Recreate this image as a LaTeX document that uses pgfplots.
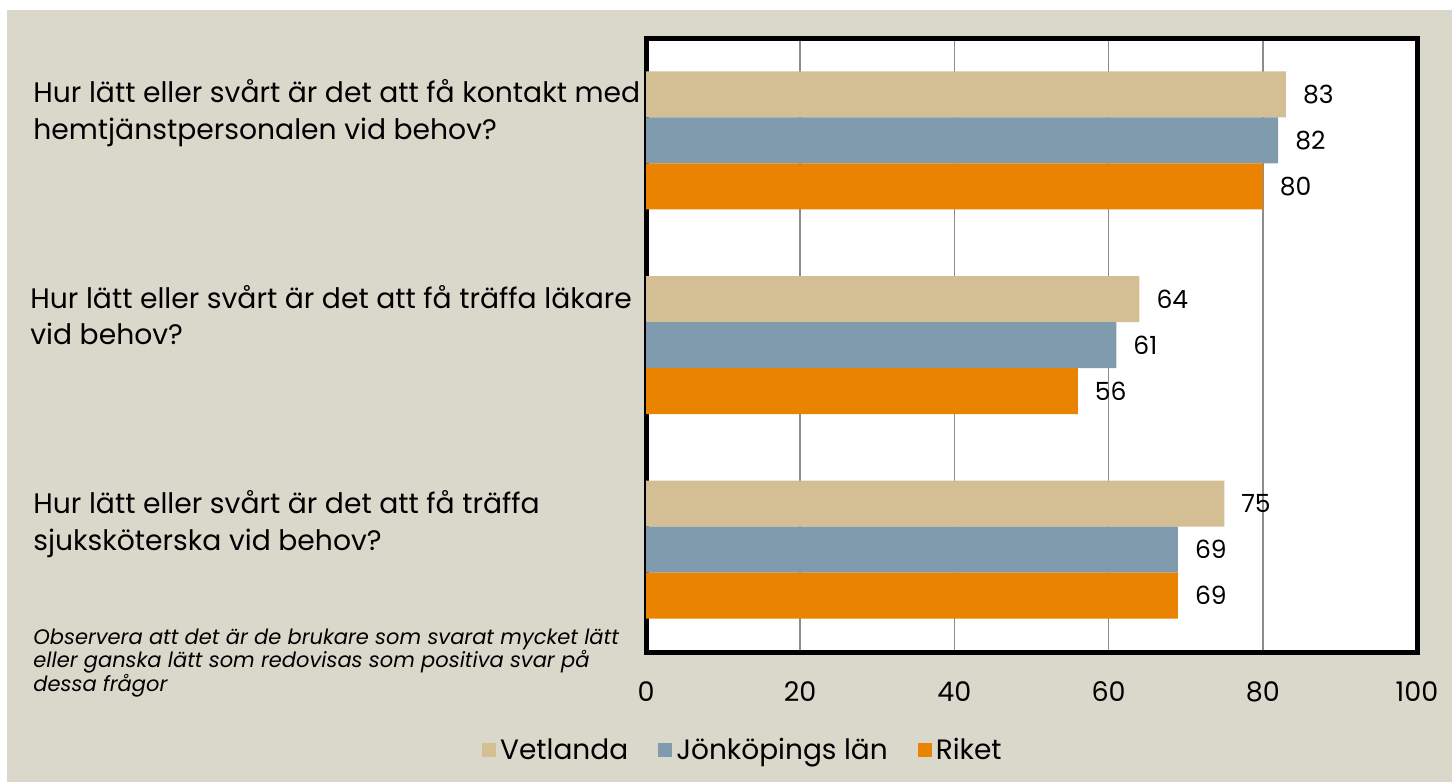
\documentclass[border=0pt]{standalone}
\usepackage{fontspec}
\setmainfont{Poppins}
\usepackage{pgfplots}
\pgfplotsset{compat=1.18}
\definecolor{bg}{HTML}{DAD8CB}
\definecolor{tan}{HTML}{D4BF95}
\definecolor{steel}{HTML}{7F9BAD}
\definecolor{orng}{HTML}{EA8400}
\begin{document}
\begin{tikzpicture}[x=1pt,y=1pt]
\useasboundingbox (0,0) rectangle (726,391);
\fill[white] (0,0) rectangle (726,391);
\fill[bg] (3.5,0) rectangle (726,386);
\begin{axis}[
  at={(323pt,65pt)}, anchor=south west,
  scale only axis, width=385.5pt, height=307pt,
  xmin=0, xmax=100, ymin=-0.5, ymax=2.5,
  y dir=reverse,
  xbar, bar width=23pt,
  ytick=\empty,
  xtick={0,20,40,60,80,100},
  xmajorgrids,
  grid style={draw=gray!90, line width=0.75pt},
  axis line style={line width=2.5pt},
  major tick style={draw=none},
  axis background/.style={fill=white},
  /pgf/number format/assume math mode=true,
  xticklabel style={font=\fontsize{13.5}{13.5}\selectfont, anchor=center, yshift=-20pt},
  nodes near coords,
  nodes near coords style={anchor=west, xshift=5pt, font=\fontsize{12.5}{12.5}\selectfont, text=black},
  legend columns=3,
  legend style={at={(0.127,-0.16)}, anchor=center, draw=none, fill=none,
    font=\fontsize{14}{14}\selectfont, /tikz/every even column/.append style={column sep=13pt}},
  legend image code/.code={\fill[#1] (0pt,-3.5pt) rectangle (7pt,3.5pt);},
]
\addplot[fill=tan, draw=none, bar shift=23pt] coordinates {(83,0) (64,1) (75,2)};
\addplot[fill=steel, draw=none, bar shift=0pt] coordinates {(82,0) (61,1) (69,2)};
\addplot[fill=orng, draw=none, bar shift=-23pt] coordinates {(80,0) (56,1) (69,2)};
\legend{Vetlanda, Jönköpings län, Riket}
\end{axis}
\begin{scope}[every node/.style={anchor=base west, inner sep=0pt, font=\fontsize{14.1}{14.1}\selectfont}]
\node at (16.5,339.5) {Hur lätt eller svårt är det att få kontakt med};
\node at (16.5,321) {hemtjänstpersonalen vid behov?};
\node at (15,236.5) {Hur lätt eller svårt är det att få träffa läkare};
\node at (15,218.5) {vid behov?};
\node at (16.5,134) {Hur lätt eller svårt är det att få träffa};
\node at (16.5,115.5) {sjuksköterska vid behov?};
\end{scope}
\begin{scope}[every node/.style={anchor=base west, inner sep=0pt, font=\fontsize{10.5}{10.5}\selectfont\itshape}]
\node at (16.5,68.5) {Observera att det är de brukare som svarat mycket lätt};
\node at (16.5,57) {eller ganska lätt som redovisas som positiva svar på};
\node at (16.5,45) {dessa frågor};
\end{scope}
\end{tikzpicture}
\end{document}
